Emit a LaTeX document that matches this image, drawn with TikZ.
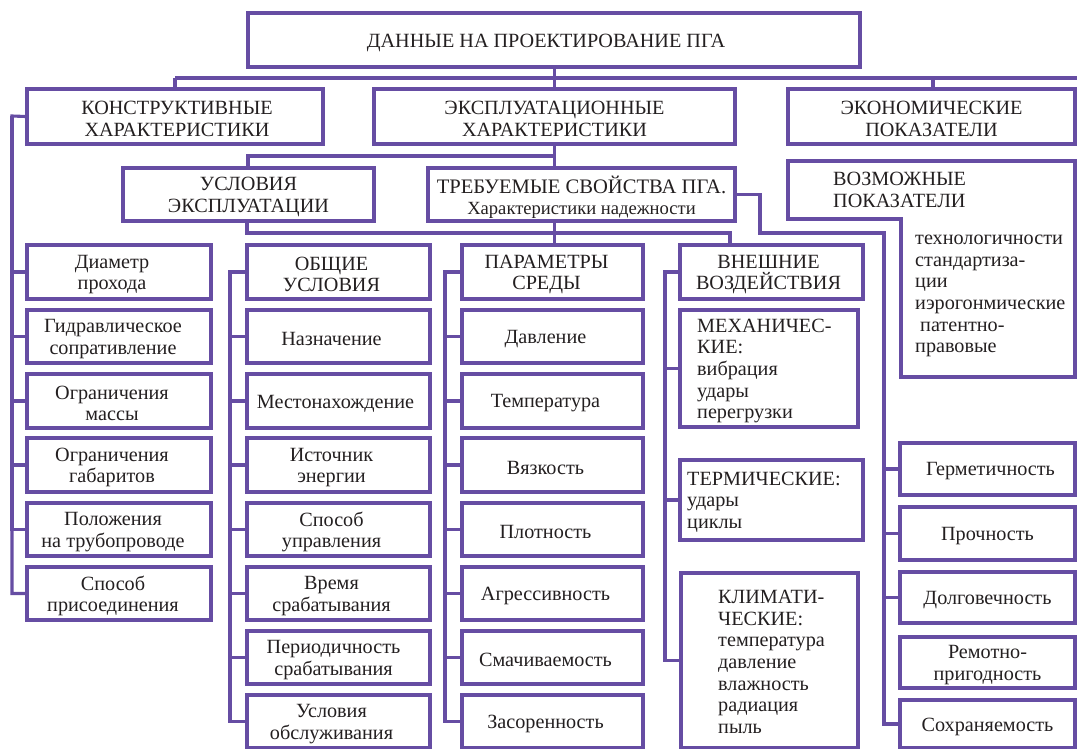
\documentclass[tikz,border=0pt]{standalone}
\usepackage{fontspec}
\setmainfont{Liberation Serif}
\definecolor{pl}{HTML}{664DA3}
\definecolor{tx}{HTML}{231F20}
\newcommand\fs{\fontsize{20.2}{21.6}\selectfont}
\tikzset{
  box/.style={draw=pl, line width=3.1pt, inner sep=0pt},
  ln/.style={draw=pl, line width=3.1pt},
  tb/.style={inner sep=0pt, align=center, font=\fs, text=tx},
  txt/.style={inner sep=0pt, align=left, font=\fs, text=tx, anchor=west}
}
% \mybox[x offset of text]{name}{x1}{y1}{x2}{y2}{text}
\newcommand\mybox[7][0]{%
  \node[box, minimum width={#5-#3}, minimum height={#6-#4}] (#2) at ({(#3+#5)/2},{(#4+#6)/2}) {};
  \node[tb] (#2t) at ({(#3+#5)/2+#1},{(#4+#6)/2+2.5}) {#7};}
\begin{document}
\begin{tikzpicture}[x=1pt,y=-1pt]
\useasboundingbox (0,0) rectangle (1077,749);
% level 0-1
\mybox[-8]{T}{248}{13}{860}{67}{ДАННЫЕ НА ПРОЕКТИРОВАНИЕ ПГА}
\mybox[2]{K}{27}{89}{323}{144}{КОНСТРУКТИВНЫЕ\\ХАРАКТЕРИСТИКИ}
\mybox{E}{374}{89}{735}{144}{ЭКСПЛУАТАЦИОННЫЕ\\ХАРАКТЕРИСТИКИ}
\mybox{Ec}{788}{89}{1075}{144}{ЭКОНОМИЧЕСКИЕ\\ПОКАЗАТЕЛИ}
\mybox{U}{123}{168}{374}{221}{УСЛОВИЯ\\ЭКСПЛУАТАЦИИ}
\mybox{Tr}{428}{168}{735}{221}{{\fontsize{20.6}{22}\selectfont ТРЕБУЕМЫЕ СВОЙСТВА ПГА.}\\[-1pt]{\fontsize{18.6}{20}\selectfont Характеристики надежности}}
% column A
\mybox[-7]{A1}{27}{245}{211}{299}{Диаметр\\прохода}
\mybox[-6]{A2}{27}{310}{211}{363}{Гидравлическое\\сопративление}
\mybox[-7]{A3}{27}{374}{211}{428}{Ограничения\\массы}
\mybox[-7]{A4}{27}{438}{211}{492}{Ограничения\\габаритов}
\mybox[-6]{A5}{27}{503}{211}{556}{Положения\\на трубопроводе}
\mybox[-6]{A6}{27}{567}{211}{620}{Способ\\присоединения}
% column B
\mybox[-7]{B0}{247}{245}{430}{299}{ОБЩИЕ\\УСЛОВИЯ}
\mybox[-7]{B1}{247}{310}{430}{363}{Назначение}
\mybox[-3]{B2}{247}{374}{430}{428}{Местонахождение}
\mybox[-7]{B3}{247}{438}{430}{492}{Источник\\энергии}
\mybox[-7]{B4}{247}{503}{430}{556}{Способ\\управления}
\mybox[-7]{B5}{247}{567}{430}{620}{Время\\срабатывания}
\mybox[-5]{B6}{247}{631}{430}{684}{Периодичность\\срабатывания}
\mybox[-7]{B7}{247}{695}{430}{748}{Условия\\обслуживания}
% column C
\mybox[-6]{C0}{462}{245}{643}{299}{ПАРАМЕТРЫ\\СРЕДЫ}
\mybox[-7]{C1}{462}{310}{643}{363}{Давление}
\mybox[-7]{C2}{462}{374}{643}{428}{Температура}
\mybox[-7]{C3}{462}{438}{643}{492}{Вязкость}
\mybox[-7]{C4}{462}{503}{643}{556}{Плотность}
\mybox[-7]{C5}{462}{567}{643}{620}{Агрессивность}
\mybox[-7]{C6}{462}{631}{643}{684}{Смачиваемость}
\mybox[-7]{C7}{462}{695}{643}{748}{Засоренность}
% column D
\mybox[-3]{D0}{680}{245}{863}{299}{ВНЕШНИЕ\\ВОЗДЕЙСТВИЯ}
\mybox{D1}{680}{310}{858}{427}{}
\mybox{D2}{680}{460}{863}{540}{}
\mybox{D3}{681}{573}{858}{748}{}
\node[txt] (D1x) at (697,371) {МЕХАНИЧЕС-\\КИЕ:\\вибрация\\удары\\перегрузки};
\node[txt] (D2x) at (687,502) {ТЕРМИЧЕСКИЕ:\\удары\\циклы};
\node[txt] (D3x) at (718,662) {КЛИМАТИ-\\ЧЕСКИЕ:\\температура\\давление\\влажность\\радиация\\пыль};
% column E
\mybox[3]{E1}{900}{443}{1075}{495}{Герметичность}
\mybox{E2}{900}{507}{1075}{560}{Прочность}
\mybox{E3}{900}{572}{1075}{623}{Долговечность}
\mybox{E4}{900}{637}{1075}{688}{Ремотно-\\пригодность}
\mybox{E5}{900}{700}{1075}{748}{Сохраняемость}
% possible indicators (L-shaped frame)
\draw[ln] (788,161) -- (1075,161) -- (1075,377) -- (901,377) -- (901,219) -- (788,219) -- cycle;
\node[txt] (vz) at (833,190) {ВОЗМОЖНЫЕ\\ПОКАЗАТЕЛИ};
\node[txt] (vzl) at (915,296) {технологичности\\стандартиза-\\ции\\иэрогонмические\\\hspace*{5pt}патентно-\\правовые};
% connectors
\coordinate (bus1) at (554.5,78);
\coordinate (h1L) at (175,78);
\coordinate (h1R) at (1077,78);
\coordinate (h1e) at (933,78);
\draw[ln] (h1L) -- (h1R);
\draw[ln] (T.south -| bus1) -- (E.north -| bus1);
\draw[ln] (h1L) -- (K.north -| h1L);
\draw[ln] (h1e) -- (Ec.north -| h1e);
\coordinate (kb) at (12,116);
\draw[ln] (K.west) -- (kb) |- (A6.west);
\foreach \i in {1,...,5} \draw[ln] (kb) |- (A\i.west);
\coordinate (h2) at (248,156);
\draw[ln] (E.south -| bus1) |- (h2) -- (U.north -| h2);
\draw[ln] (E.south -| bus1) -- (Tr.north -| bus1);
\coordinate (h3) at (247,233);
\coordinate (h3r) at (730,233);
\draw[ln] (U.south -| h3) -- (h3) -- (h3r) -- (D0.north -| h3r);
\draw[ln] (Tr.south -| bus1) -- (C0.north -| bus1);
\coordinate (tr1) at (760,194.5);
\coordinate (tr2) at (884,233);
\draw[ln] (Tr.east) -- (tr1) |- (tr2) |- (E5.west);
\foreach \i in {1,2,3} \draw[ln] (tr2) |- (E\i.west);
\coordinate (bb) at (230,272);
\draw[ln] (B0.west) -- (bb) |- (B7.west);
\foreach \i in {1,...,6} \draw[ln] (bb) |- (B\i.west);
\coordinate (cb) at (445,272);
\draw[ln] (C0.west) -- (cb) |- (C7.west);
\foreach \i in {1,...,6} \draw[ln] (cb) |- (C\i.west);
\coordinate (db) at (665,272);
\draw[ln] (D0.west) -- (db) |- (D3.west);
\draw[ln] (db) |- (D1.west);
\draw[ln] (db) |- (D2.west);
\end{tikzpicture}
\end{document}
